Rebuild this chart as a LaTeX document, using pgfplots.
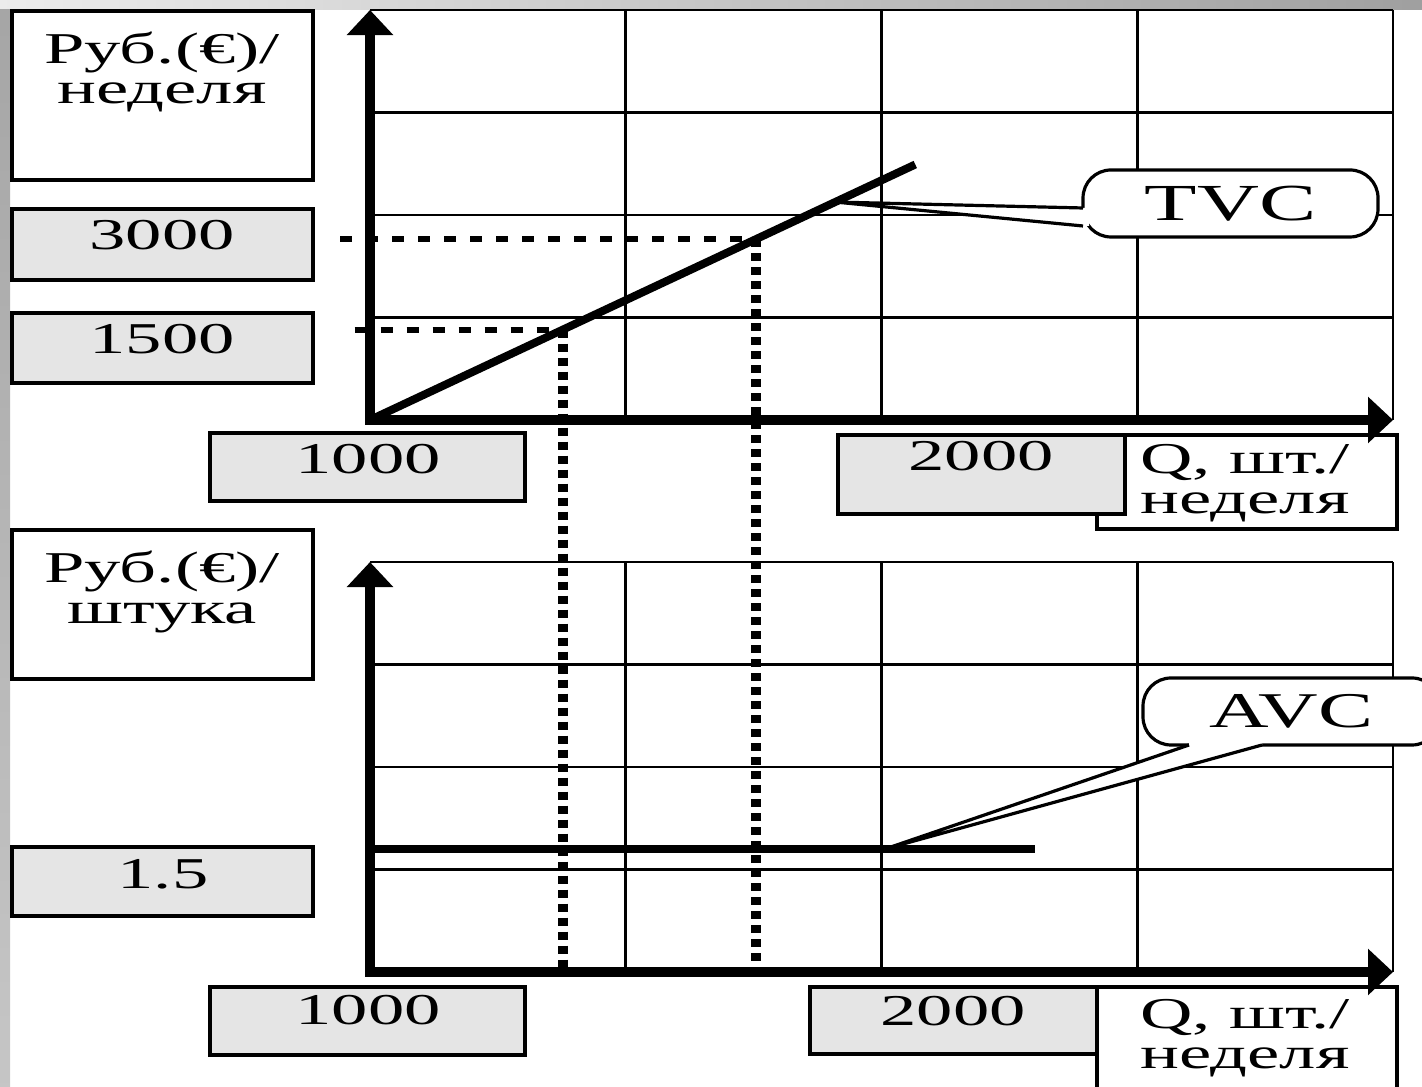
\documentclass[border=0pt]{standalone}
\usepackage{graphicx}
\usepackage{fontspec}
\setmainfont{Liberation Serif}
\usepackage{pgfplots}
\pgfplotsset{compat=1.18}
\usetikzlibrary{arrows.meta}

% the reference text is stretched sideways
\newcommand{\wide}[1]{\scalebox{1.65}[1]{#1}}

\pgfplotsset{
  panel/.style={
    anchor=south west, scale only axis,
    width=255.75pt, height=102.5pt,
    xmin=0, xmax=5300, ymin=0,
    axis lines=left,
    axis line style={line width=2.5pt, line cap=rect, -{Triangle[length=6.25pt,width=11.25pt]}},
    xtick={1325,2650,3975,5300}, xticklabels={}, yticklabels={},
    major tick length=0pt,
    grid=major, grid style={line width=0.7pt, black},
    clip=false,
  },
}

\begin{document}
\begin{tikzpicture}[x=0.25pt, y=0.25pt,
  box/.style={draw=black, line width=0.8pt},
  lab/.style={anchor=base, inner sep=0pt, font=\fontsize{11}{13}\selectfont},
  guide/.style={line width=1.5pt, dash pattern=on 3pt off 3.5pt},
  drop/.style={line width=2.3pt, dash pattern=on 2pt off 1.5pt}]

\useasboundingbox (0,-1087) rectangle (1422,0);
\shade[left color=gray!15, right color=gray!75] (0,0) rectangle (1422,-10);
\shade[top color=gray!70, bottom color=gray!45] (0,-10) rectangle (10,-1087);

% left labels, top panel
\draw[box, fill=white] (12,-11) rectangle (313,-180);
\node[lab] at (162,-64) {\wide{Руб.(€)/}};
\node[lab] at (162,-104) {\wide{неделя}};
\draw[box, fill=gray!20] (12,-209) rectangle (313,-280);
\node[lab] at (162,-250) {\wide{3000}};
\draw[box, fill=gray!20] (12,-313) rectangle (313,-383);
\node[lab] at (162,-354) {\wide{1500}};

% x labels, top panel
\draw[box, fill=gray!20] (210,-433) rectangle (525,-501);
\node[lab] at (368,-474) {\wide{1000}};
\draw[box, fill=white] (1097,-435) rectangle (1397,-529);
\node[lab] at (1245,-474) {\wide{Q, шт./}};
\node[lab] at (1245,-514) {\wide{неделя}};
\draw[box, fill=gray!20] (838,-435) rectangle (1125,-514);
\node[lab] at (981,-471) {\wide{2000}};

% left labels, bottom panel
\draw[box, fill=white] (12,-530) rectangle (313,-679);
\node[lab] at (162,-583) {\wide{Руб.(€)/}};
\node[lab] at (162,-624) {\wide{штука}};
\draw[box, fill=gray!20] (12,-847) rectangle (313,-916);
\node[lab] at (163,-889) {\wide{1.5}};

% x labels, bottom panel
\draw[box, fill=gray!20] (210,-987) rectangle (525,-1055);
\node[lab] at (368,-1025) {\wide{1000}};
\draw[box, fill=white] (1097,-987) rectangle (1397,-1095);
\node[lab] at (1245,-1029) {\wide{Q, шт./}};
\node[lab] at (1245,-1069) {\wide{неделя}};
\draw[box, fill=gray!20] (810,-987) rectangle (1097,-1054);
\node[lab] at (953,-1026) {\wide{2000}};

% top panel: total variable cost
\begin{axis}[panel, at={(92.5pt,-105pt)}, ymax=6800, ytick={1700,3400,5100,6800}]
\addplot[black, line width=2pt] coordinates {(0,0) (2825,4237.5)};
\addplot[black, guide] coordinates {(-155,3000) (2000,3000)};
\addplot[black, guide] coordinates {(-80,1500) (1000,1500)};
\coordinate (d1) at (axis cs:1000,1500);
\coordinate (d2) at (axis cs:2000,3000);
\coordinate (tvc) at (axis cs:2410,3615);
\end{axis}

% bottom panel: average variable cost
\begin{axis}[panel, at={(92.5pt,-243pt)}, ymax=5, ytick={1.25,2.5,3.75,5}]
\addplot[black, line width=2pt] coordinates {(0,1.5) (3445,1.5)};
\coordinate (e1) at (axis cs:1000,0);
\coordinate (e2) at (axis cs:2000,0);
\coordinate (avc) at (axis cs:2668,1.5);
\end{axis}

\draw[drop] (d1) -- (e1);
\draw[drop] (d2) -- (e2);

% callouts
\node[draw, line width=0.8pt, fill=white, rounded corners=7pt, inner sep=0pt,
  minimum width=73.75pt, minimum height=16.75pt] at (1230.5,-203.5)
  {\fontsize{13}{15}\selectfont\wide{TVC}};
\fill[white] (tvc) -- (1083,-208) -- (1089,-208) -- (1089,-226) -- (1083,-226) -- cycle;
\draw[line width=0.8pt] (1083,-208) -- (tvc) -- (1083,-226);

\node[draw, line width=0.8pt, fill=white, rounded corners=7pt, inner sep=0pt,
  minimum width=74.25pt, minimum height=16.75pt] at (1291.5,-711.5)
  {\fontsize{12.5}{15}\selectfont\wide{AVC}};
\fill[white] (avc) -- (1189,-745) -- (1189,-739) -- (1262,-739) -- (1262,-745) -- cycle;
\draw[line width=0.8pt] (1189,-745) -- (avc) -- (1262,-745);
\end{tikzpicture}
\end{document}
